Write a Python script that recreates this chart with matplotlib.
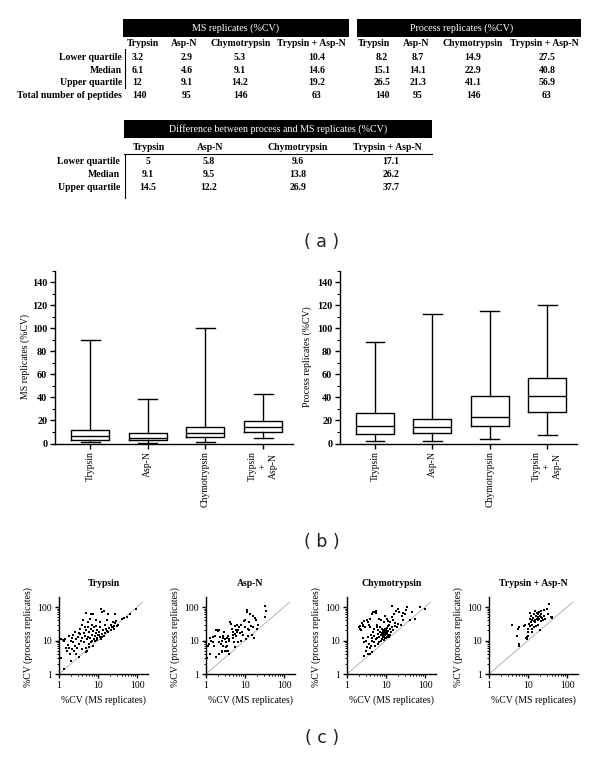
import matplotlib
matplotlib.use('Agg')
import matplotlib.pyplot as plt
from matplotlib.patches import Rectangle
from matplotlib.lines import Line2D
from matplotlib.ticker import MultipleLocator, NullFormatter, LogLocator

# ---------------- data ----------------
enzymes = ['Trypsin', 'Asp-N', 'Chymotrypsin', 'Trypsin + Asp-N']
stat_rows = ['Lower quartile', 'Median', 'Upper quartile']
ms_q1 = [3.2, 2.9, 5.3, 10.4]
ms_med = [6.1, 4.6, 9.1, 14.6]
ms_q3 = [12, 9.1, 14.2, 19.2]
n_peptides = [140, 95, 146, 63]
proc_q1 = [8.2, 8.7, 14.9, 27.5]
proc_med = [15.1, 14.1, 22.9, 40.8]
proc_q3 = [26.5, 21.3, 41.1, 56.9]
diff_q1 = [5, 5.8, 9.6, 17.1]
diff_med = [9.1, 9.5, 13.8, 26.2]
diff_q3 = [14.5, 12.2, 26.9, 37.7]

ms_whislo = [1.2, 0.8, 1.5, 4.6]
ms_whishi = [90, 38.5, 100.5, 43]
proc_whislo = [2.5, 2.5, 4.3, 7.5]
proc_whishi = [88, 112, 114.5, 120.5]
box_labels = ['Trypsin', 'Asp-N', 'Chymotrypsin', 'Trypsin\n+\nAsp-N']

# (MS replicate %CV, process replicate %CV) per peptide
trypsin_points = [
    (1.15, 11), (1.3, 10.5), (1.35, 10), (1.4, 11), (1.1, 3), (1.35, 1.4), (1.5, 6), (1.6, 5),
    (1.7, 7.5), (1.8, 6), (1.9, 4), (2.0, 2.5), (2.0, 10), (2.1, 5.5), (2.2, 12), (2.3, 9),
    (2.4, 5), (2.5, 7), (1.8, 14), (2.3, 15), (2.6, 18), (2.8, 4), (2.9, 6), (3.0, 13),
    (3.2, 17), (3.3, 8), (3.5, 16), (3.6, 10), (3.8, 5.5), (3.2, 3.2), (3.9, 30), (4.0, 12),
    (2.7, 11), (3.4, 22), (4.2, 40), (4.5, 9), (4.6, 14), (4.8, 6), (4.9, 4.5), (5.0, 65),
    (5.0, 20), (5.2, 11), (5.3, 5), (5.5, 13), (5.6, 25), (5.8, 8), (6.0, 18), (4.3, 17),
    (4.7, 25), (5.9, 6.5), (5.4, 35), (6.2, 12), (6.5, 22), (6.6, 9), (6.8, 60), (7.0, 15),
    (7.2, 30), (7.3, 7), (7.5, 19), (7.8, 11), (8.0, 25), (8.2, 14), (8.5, 9.5), (8.7, 17),
    (9.0, 40), (9.2, 12), (9.5, 21), (9.8, 15), (6.3, 45), (7.6, 62), (8.8, 28), (6.9, 10),
    (9.6, 10.5), (10.5, 18), (11, 13), (11.5, 25), (12, 85), (12.5, 16), (13, 70), (13.5, 20),
    (14, 78), (14.5, 14), (15, 30), (15.5, 17), (16, 22), (17, 19), (18, 60), (19, 24),
    (11, 35), (12, 11), (16.5, 40), (13, 12.5), (18.5, 18), (10.5, 14.5), (21, 20), (22, 30),
    (23, 26), (24, 35), (25, 28), (26, 22), (27, 60), (28, 33), (30, 27), (32, 30),
    (24, 25), (29, 38), (45, 48), (55, 52), (65, 60), (95, 85), (40, 45),
]
aspn_points = [
    (1.05, 3), (1.1, 7), (1.2, 8), (1.3, 4), (1.35, 10), (1.5, 13), (1.6, 7), (1.7, 14),
    (1.8, 20), (1.9, 21), (2.0, 19), (2.1, 20), (1.8, 3.3), (2.2, 4), (1.5, 9), (1.3, 12),
    (2.3, 13), (2.4, 8), (2.5, 10), (2.6, 5), (2.7, 14), (2.8, 7), (3.0, 11), (3.0, 5),
    (3.2, 6.5), (3.3, 9), (3.5, 12), (3.5, 7), (3.7, 5), (3.8, 10), (3.9, 4), (4.0, 11),
    (2.9, 18), (3.6, 14), (2.5, 4.5), (3.2, 5), (2.2, 9), (2.8, 12), (4.2, 35), (4.5, 32),
    (4.6, 22), (4.8, 18), (5.0, 15), (5.2, 9), (5.5, 16), (5.7, 27), (5.8, 20), (6.0, 14),
    (6.2, 18), (6.5, 20), (6.8, 9), (7.0, 25), (7.5, 17), (7.8, 30), (4.8, 12), (5.5, 6.5),
    (6.3, 30), (8.5, 18), (9, 15), (9.5, 38), (10, 26), (10.5, 11), (11, 80), (11.5, 70),
    (12, 22), (12.5, 20), (13, 35), (13.5, 60), (14, 28), (15, 15), (8, 10), (10, 40),
    (12, 14), (16, 25), (17, 12), (18, 48), (19, 40), (20, 22), (33, 105), (35, 75),
    (33, 50), (16, 55), (22, 30),
]
chymo_points = [
    (2.0, 25), (2.1, 28), (2.2, 22), (2.4, 33), (2.5, 30), (2.6, 27), (2.3, 20), (2.8, 38),
    (2.9, 25), (2.7, 9), (3.0, 5), (2.8, 3.5), (3.2, 6.5), (3.4, 4), (3.1, 10), (2.6, 12),
    (3.3, 40), (3.5, 35), (3.6, 30), (3.8, 25), (4.0, 45), (4.2, 15), (4.4, 12), (3.7, 8),
    (3.9, 6), (4.5, 10), (4.6, 18), (4.8, 14), (5.0, 22), (3.5, 13), (4.1, 7), (4.3, 60),
    (4.7, 72), (3.8, 4), (4.5, 4.5), (5.0, 9), (5.2, 70), (5.5, 75), (5.6, 65), (5.8, 30),
    (6.0, 12), (6.2, 16), (6.4, 20), (6.5, 9), (6.8, 13), (7.0, 18), (7.2, 25), (7.3, 10),
    (7.5, 15), (7.8, 22), (8.0, 17), (5.4, 11), (6.0, 26), (6.7, 45), (7.6, 40), (5.3, 7),
    (6.3, 8), (8.2, 15), (8.4, 18), (8.5, 13), (8.6, 20), (8.8, 16), (9.0, 14), (9.1, 19),
    (9.2, 17), (9.4, 22), (9.5, 15), (9.6, 12), (9.8, 18), (10.0, 16), (10.2, 20), (10.4, 13),
    (10.5, 24), (10.8, 17), (11.0, 15), (11.2, 28), (11.5, 19), (8.0, 11), (9.0, 10.5), (10.0, 11.5),
    (8.7, 35), (9.3, 55), (10.5, 45), (11, 38), (11.8, 12.5), (12, 30), (12.5, 22), (13, 35),
    (13.5, 18), (14, 110), (14.5, 26), (15, 40), (15.5, 20), (16, 60), (17, 33), (18, 75),
    (19, 25), (20, 90), (22, 70), (24, 30), (25, 55), (27, 65), (28, 40), (30, 60),
    (13, 15), (17, 28), (20, 32), (14, 50), (12, 13), (33, 80), (35, 100), (40, 42),
    (55, 45), (75, 100), (100, 85), (45, 70),
]
tryp_aspn_points = [
    (3.8, 30), (5.2, 14), (5.9, 7.8), (5.8, 6.8), (6.0, 25), (5.5, 22), (8.0, 27), (8.5, 30),
    (9.0, 12), (9.2, 13), (9.5, 11), (10, 14), (9.8, 18), (10.5, 32), (11, 28), (11, 45),
    (11.5, 65), (12, 35), (12.5, 40), (12, 55), (13, 30), (13.5, 48), (14, 38), (14.5, 60),
    (15, 42), (15, 75), (15.5, 35), (16, 55), (16.5, 45), (17, 65), (17.5, 50), (18, 40),
    (18.5, 60), (19, 70), (19.5, 45), (20, 55), (20, 20), (21, 38), (22, 60), (23, 48),
    (24, 40), (25, 80), (26, 55), (28, 45), (30, 90), (32, 62), (35, 120), (38, 50),
    (40, 48), (42, 52), (13, 22), (10, 22), (16, 28), (22, 75), (18, 30), (14, 26),
    (12.5, 18), (21, 52),
]
scatter_sets = [trypsin_points, aspn_points, chymo_points, tryp_aspn_points]

# ---------------- helpers ----------------
W, H = 600, 757
fig = plt.figure(figsize=(6, 7.57), dpi=100)
SERIF = ['Liberation Serif', 'DejaVu Serif']


def fx(x):
    return x / W


def fy(y):
    return 1 - y / H


def ptext(x, y, s, **kw):
    kw.setdefault('family', SERIF)
    kw.setdefault('fontsize', 7)
    kw.setdefault('va', 'center')
    return fig.text(fx(x), fy(y), s, **kw)


def bar(x0, x1, y0, y1):
    fig.patches.append(Rectangle((fx(x0), fy(y1)), fx(x1) - fx(x0), fy(y0) - fy(y1),
                                 transform=fig.transFigure, facecolor='black',
                                 edgecolor='none'))


def line(x0, y0, x1, y1, lw=0.8):
    fig.lines.append(Line2D([fx(x0), fx(x1)], [fy(y0), fy(y1)], transform=fig.transFigure,
                            color='black', lw=lw))


def fmt(v):
    return f'{v:g}'


# ---------------- (a) tables ----------------
row_y = [58, 70.5, 82.5, 95]
# MS table
bar(123, 349, 19, 37)
ptext(236, 28, 'MS replicates (%CV)', color='white', ha='center', fontsize=7.2)
for name, cx in zip(enzymes, [143, 184, 241, 311]):
    ptext(cx, 43, name, ha='center', weight='bold')
line(125, 49, 125, 88)
for lab, yy in zip(stat_rows + ['Total number of peptides'], row_y):
    ptext(122, yy, lab, ha='right', weight='bold')
ms_cols = [ms_q1, ms_med, ms_q3, n_peptides]
for r, (vals, yy) in enumerate(zip(ms_cols, row_y)):
    for c, (v, cx) in enumerate(zip(vals, [132, 187, 240, 317])):
        ptext(cx, yy, fmt(v), ha='left' if c == 0 else 'center', weight='bold')

# Process table
bar(357, 581, 19, 37)
ptext(462, 28, 'Process replicates (%CV)', color='white', ha='center', fontsize=7.2)
for name, cx in zip(enzymes, [374, 416, 473, 544]):
    ptext(cx, 43, name, ha='center', weight='bold')
proc_cols = [proc_q1, proc_med, proc_q3, n_peptides]
for vals, yy in zip(proc_cols, row_y):
    for v, cx in zip(vals, [382, 418, 473, 547]):
        ptext(cx, yy, fmt(v), ha='center', weight='bold')

# Difference table
bar(124, 432, 120, 138)
ptext(278, 129.5, 'Difference between process and MS replicates (%CV)', color='white',
      ha='center', fontsize=7.2)
for name, cx in zip(enzymes, [149, 210, 298, 387]):
    ptext(cx, 147, name, ha='center', weight='bold')
line(124, 154, 432, 154)
line(125, 154, 125, 198)
diff_y = [161, 174.5, 187]
for lab, yy in zip(stat_rows, diff_y):
    ptext(120, yy, lab, ha='right', weight='bold')
for vals, yy in zip([diff_q1, diff_med, diff_q3], diff_y):
    for v, cx in zip(vals, [148, 209, 298, 391]):
        ptext(cx, yy, fmt(v), ha='center', weight='bold')

fig.text(fx(322), fy(242), '( a )', family='DejaVu Sans', fontsize=12.5, color='#222222',
         ha='center', va='center')

# ---------------- (b) boxplots ----------------
def boxpanel(left, right, whislo, q1, med, q3, whishi, ylabel, ylab_x):
    ax = fig.add_axes([fx(left), fy(443.5), (right - left) / W, (443.5 - 270.5) / H])
    stats = [dict(whislo=a, q1=b, med=c, q3=d, whishi=e, fliers=[])
             for a, b, c, d, e in zip(whislo, q1, med, q3, whishi)]
    ax.bxp(stats, positions=range(len(stats)), widths=0.66, showfliers=False,
           boxprops=dict(color='black', lw=1.0), whiskerprops=dict(color='black', lw=1.0),
           capprops=dict(color='black', lw=1.0), medianprops=dict(color='black', lw=1.0),
           manage_ticks=False)
    ax.set_xlim(-0.61, 3.52)
    ax.set_ylim(0, 150)
    for s in ['top', 'right']:
        ax.spines[s].set_visible(False)
    for s in ['left', 'bottom']:
        ax.spines[s].set_linewidth(1.0)
    ax.set_yticks(range(0, 141, 20))
    ax.yaxis.set_minor_locator(MultipleLocator(10))
    ax.set_xticks(range(4))
    ax.set_xticklabels(box_labels, rotation=90, family=SERIF, fontsize=7,
                       va='top', ha='center', multialignment='center')
    for t in ax.get_yticklabels():
        t.set_fontfamily(SERIF)
        t.set_fontsize(7.3)
        t.set_fontweight('bold')
    ax.tick_params(which='major', direction='out', length=3.5, width=1.0, pad=2)
    ax.tick_params(which='minor', direction='out', length=2, width=0.8)
    ax.patch.set_alpha(0)
    fig.text(fx(ylab_x), fy(357), ylabel, rotation=90, family=SERIF, fontsize=7,
             ha='center', va='center')
    return ax


boxpanel(55, 293, ms_whislo, ms_q1, ms_med, ms_q3, ms_whishi, 'MS replicates (%CV)', 25)
boxpanel(340, 577, proc_whislo, proc_q1, proc_med, proc_q3, proc_whishi,
         'Process replicates (%CV)', 307)

fig.text(fx(322), fy(542), '( b )', family='DejaVu Sans', fontsize=12.5, color='#222222',
         ha='center', va='center')

# ---------------- (c) scatter plots ----------------
lefts = [59, 206, 347, 489]
for left, pts, title in zip(lefts, scatter_sets, enzymes):
    ax = fig.add_axes([fx(left), fy(674), 89 / W, 77 / H])
    ax.set_xscale('log')
    ax.set_yscale('log')
    ax.set_xlim(1, 191)
    ax.set_ylim(1, 199)
    ax.plot([1, 140], [1, 140], color='#b5b5b5', lw=0.7, zorder=1)
    xs = [p[0] for p in pts]
    ys = [p[1] for p in pts]
    ax.plot(xs, ys, 's', ms=1.7, mew=0, color='black', zorder=2)
    for s in ['top', 'right']:
        ax.spines[s].set_visible(False)
    for s in ['left', 'bottom']:
        ax.spines[s].set_linewidth(1.0)
    ax.set_xticks([1, 10, 100])
    ax.set_yticks([1, 10, 100])
    ax.set_xticklabels(['1', '10', '100'], family=SERIF, fontsize=7)
    ax.set_yticklabels(['1', '10', '100'], family=SERIF, fontsize=7)
    ax.xaxis.set_minor_locator(LogLocator(base=10, subs=range(2, 10)))
    ax.yaxis.set_minor_locator(LogLocator(base=10, subs=range(2, 10)))
    ax.xaxis.set_minor_formatter(NullFormatter())
    ax.yaxis.set_minor_formatter(NullFormatter())
    ax.tick_params(which='major', direction='out', length=3, width=1.0, pad=2)
    ax.tick_params(which='minor', direction='out', length=1.6, width=0.7)
    ax.patch.set_alpha(0)
    cx = left + 44.5
    ptext(cx, 583, title, ha='center', weight='bold')
    ptext(cx, 700, '%CV (MS replicates)', ha='center')
    ptext(left - 31, 637, '%CV (process replicates)', ha='center', rotation=90)

fig.text(fx(322), fy(738), '( c )', family='DejaVu Sans', fontsize=12.5, color='#222222',
         ha='center', va='center')

fig.savefig('out.png', dpi=100)
